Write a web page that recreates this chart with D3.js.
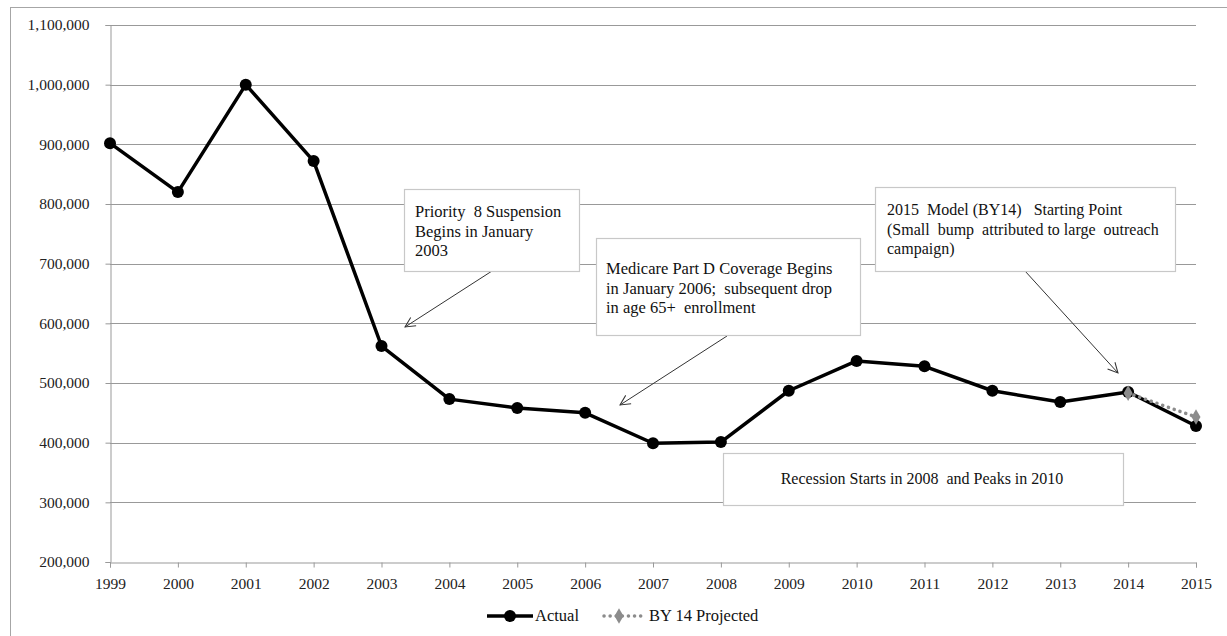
<!DOCTYPE html>
<html>
<head>
<meta charset="utf-8">
<script src="https://cdn.jsdelivr.net/npm/d3@7"></script>
<style>
  html, body { margin: 0; padding: 0; background: #fff; }
  svg text { font-family: "Liberation Serif", "Times New Roman", Times, "DejaVu Serif", serif !important; }
</style>
</head>
<body>
<svg id="chart" width="1227" height="636"></svg>
<script>
// Enrollment by year: actual counts and the BY14 projection
const years = [1999, 2000, 2001, 2002, 2003, 2004, 2005, 2006, 2007, 2008, 2009, 2010, 2011, 2012, 2013, 2014, 2015];
const actual = [902000, 820000, 1000000, 872000, 562000, 473000, 458000, 450000, 399000, 401000, 487000, 537000, 528000, 487000, 468000, 485000, 428000];
const projectedYears = [2014, 2015];
const projected = [483000, 443000];
const yTicks = [200000, 300000, 400000, 500000, 600000, 700000, 800000, 900000, 1000000, 1100000];

const FONT = "'Liberation Serif', 'Times New Roman', serif";
const svg = d3.select("#chart");
const margin = { left: 110, right: 31, top: 25, bottom: 74 };
const W = 1227, H = 636;

const x = d3.scalePoint().domain(years).range([margin.left, W - margin.right]);
const y = d3.scaleLinear().domain([200000, 1100000]).range([H - margin.bottom, margin.top]);

// outer frame
svg.append("rect").attr("x", 10.5).attr("y", 7.5).attr("width", 1230).attr("height", 640)
  .attr("fill", "none").attr("stroke", "#a6a6a6");

// horizontal gridlines
svg.append("g").selectAll("line").data(yTicks.slice(1)).join("line")
  .attr("x1", margin.left).attr("x2", W - margin.right)
  .attr("y1", d => Math.round(y(d)) + 0.5).attr("y2", d => Math.round(y(d)) + 0.5)
  .attr("stroke", "#999").attr("stroke-width", 1);

// y axis
const yAxis = svg.append("g").attr("transform", `translate(${margin.left + 0.5},0)`)
  .call(d3.axisLeft(y).tickValues(yTicks).tickSize(5).tickPadding(16).tickFormat(d3.format(",")));
yAxis.attr("font-family", FONT).attr("font-size", 15.5);
yAxis.select(".domain").attr("stroke", "#999");
yAxis.selectAll(".tick line").attr("stroke", "#999");
yAxis.selectAll(".tick text").attr("fill", "#222");

// x axis
const xAxis = svg.append("g").attr("transform", `translate(0,${Math.round(y(200000)) + 0.5})`)
  .call(d3.axisBottom(x).tickSize(5).tickPadding(10).tickFormat(d => String(d)));
xAxis.attr("font-family", FONT).attr("font-size", 15.5);
xAxis.select(".domain").attr("stroke", "#999");
xAxis.selectAll(".tick line").attr("stroke", "#999");
xAxis.selectAll(".tick text").attr("fill", "#222");

// annotation arrows
svg.append("defs").append("marker")
  .attr("id", "arrow").attr("viewBox", "0 0 12 12").attr("refX", 11).attr("refY", 6)
  .attr("markerWidth", 12).attr("markerHeight", 12).attr("markerUnits", "userSpaceOnUse")
  .attr("orient", "auto")
  .append("path").attr("d", "M1,1 L11,6 L1,11").attr("fill", "none").attr("stroke", "#333").attr("stroke-width", 1);

const boxes = [
  { x: 404, y: 189, w: 175, h: 82, lines: ["Priority  8 Suspension", "Begins in January", "2003"], tx: 415, ty: 217, anchor: "start", size: 16.5 },
  { x: 596, y: 238, w: 264, h: 97, lines: ["Medicare Part D Coverage Begins", "in January 2006;  subsequent drop", "in age 65+  enrollment"], tx: 606, ty: 274, anchor: "start", size: 16.5 },
  { x: 723, y: 453, w: 400, h: 52, lines: ["Recession Starts in 2008  and Peaks in 2010"], tx: 922, ty: 484, anchor: "middle", size: 16 },
  { x: 875, y: 187, w: 300, h: 84, lines: ["2015  Model (BY14)   Starting Point", "(Small  bump  attributed to large  outreach", "campaign)"], tx: 887, ty: 215, anchor: "start", size: 16 }
];
const arrows = [
  { x1: 492, y1: 271, x2: 405, y2: 327 },
  { x1: 727, y1: 336, x2: 620, y2: 405 },
  { x1: 1025, y1: 271, x2: 1118, y2: 373 }
];

svg.append("g").selectAll("line").data(arrows).join("line")
  .attr("x1", d => d.x1).attr("y1", d => d.y1).attr("x2", d => d.x2).attr("y2", d => d.y2)
  .attr("stroke", "#333").attr("stroke-width", 1).attr("marker-end", "url(#arrow)");

// data series
const line = d3.line().x(d => x(d[0])).y(d => y(d[1]));
const actualPts = years.map((yr, i) => [yr, actual[i]]);
const projPts = projectedYears.map((yr, i) => [yr, projected[i]]);

svg.append("path").datum(actualPts).attr("d", line)
  .attr("fill", "none").attr("stroke", "#000").attr("stroke-width", 3.5).attr("stroke-linejoin", "round");
svg.append("g").selectAll("circle").data(actualPts).join("circle")
  .attr("cx", d => x(d[0])).attr("cy", d => y(d[1])).attr("r", 6).attr("fill", "#000");

svg.append("path").datum(projPts).attr("d", line)
  .attr("fill", "none").attr("stroke", "#8c8c8c").attr("stroke-width", 3.5).attr("stroke-dasharray", "0.1,6")
  .attr("stroke-linecap", "round");
const diamond = d3.symbol().type(d3.symbolDiamond).size(70);
svg.append("g").selectAll("path").data(projPts).join("path")
  .attr("d", diamond).attr("transform", d => `translate(${x(d[0])},${y(d[1])})`).attr("fill", "#8c8c8c");

// callout boxes
const bg = svg.append("g").selectAll("g").data(boxes).join("g");
bg.append("rect").attr("x", d => d.x + 0.5).attr("y", d => d.y + 0.5).attr("width", d => d.w).attr("height", d => d.h)
  .attr("fill", "#fff").attr("stroke", "#c8c8c8").attr("stroke-width", 1.2);
bg.each(function(d) {
  const t = d3.select(this).append("text").attr("text-anchor", d.anchor).attr("fill", "#111")
    .attr("font-family", FONT).attr("font-size", d.size).style("white-space", "pre");
  d.lines.forEach((ln, i) => {
    t.append("tspan").attr("x", d.tx).attr("y", d.ty + i * 19.5).text(ln);
  });
});

// legend
const lg = svg.append("g").attr("font-family", FONT).attr("font-size", 16.5);
lg.append("line").attr("x1", 487).attr("x2", 533).attr("y1", 616).attr("y2", 616).attr("stroke", "#000").attr("stroke-width", 3.5);
lg.append("circle").attr("cx", 510).attr("cy", 616).attr("r", 6).attr("fill", "#000");
lg.append("text").attr("x", 535).attr("y", 621).text("Actual").attr("fill", "#111");
lg.append("line").attr("x1", 604).attr("x2", 646).attr("y1", 616).attr("y2", 616)
  .attr("stroke", "#8c8c8c").attr("stroke-width", 3.5).attr("stroke-dasharray", "0.1,6").attr("stroke-linecap", "round");
lg.append("path").attr("d", diamond).attr("transform", "translate(619,616)").attr("fill", "#8c8c8c");
lg.append("text").attr("x", 649).attr("y", 621).text("BY 14 Projected").attr("fill", "#111");
</script>
</body>
</html>
